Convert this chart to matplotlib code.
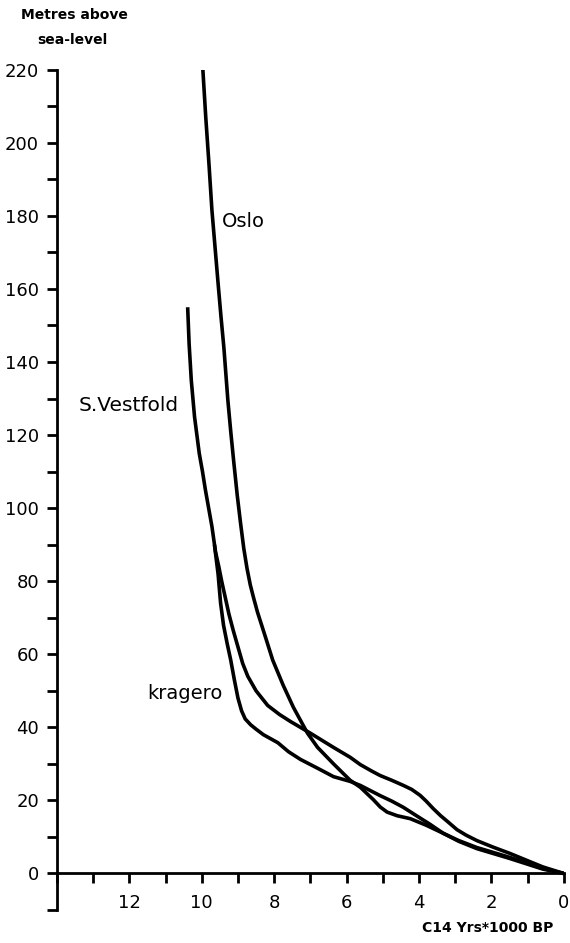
import matplotlib
matplotlib.use("Agg")
import matplotlib.pyplot as plt
from matplotlib.ticker import MultipleLocator

# curves (x = C14 yrs * 1000 BP, y = metres above sea level)
oslo_x = [9.97, 9.89, 9.8, 9.72, 9.63, 9.55, 9.47, 9.39, 9.28, 9.2, 9.12, 9.02,
          8.93, 8.84, 8.75, 8.66, 8.57, 8.46, 8.25, 8.04, 7.75, 7.47, 7.08,
          6.8, 6.36, 5.9, 5.62, 5.26, 5.07, 4.88, 4.6, 4.24, 3.8, 3.33,
          2.9, 2.4, 1.49, 0.58, 0.0]
oslo_y = [220, 207, 194, 181.6, 171, 161.6, 152.5, 144, 129.6, 121, 113, 103.5,
          96, 89, 83.5, 79, 75.5, 71.5, 65, 58.4, 51.5, 45.5, 38.4,
          34.5, 30, 25.5, 23.6, 20.2, 18.2, 16.8, 15.8, 15.0, 13.2, 11,
          8.8, 6.8, 4.1, 1.2, 0]

vestfold_x = [10.39, 10.35, 10.29, 10.2, 10.07, 9.98, 9.9, 9.81, 9.72, 9.62,
              9.53, 9.45, 9.35, 9.25, 9.13, 9.0, 8.87, 8.73, 8.5, 8.18,
              7.85, 7.55, 7.0, 6.36, 5.9, 5.62, 5.3, 5.07, 4.75, 4.43, 4.2,
              3.97, 3.8, 3.61, 3.4, 3.22, 2.95, 2.7, 2.4, 1.95, 1.49, 1.0,
              0.58, 0.0]
vestfold_y = [155, 145, 135, 125, 115, 110, 105, 100, 95, 88,
              84, 80, 75.5, 71, 66.5, 62, 57.5, 54, 50, 46,
              43.5, 41.6, 38.4, 34.5, 31.8, 29.8, 28, 26.8, 25.5, 24.1, 23,
              21.4, 19.8, 17.8, 15.8, 14.3, 12, 10.5, 9.0, 7.2, 5.5, 3.5,
              1.8, 0]

kragero_x = [9.65, 9.55, 9.48, 9.4, 9.3, 9.2, 9.1, 9.0, 8.9, 8.8, 8.65, 8.5,
             8.3, 8.1, 7.9, 7.6, 7.27, 6.8, 6.36, 5.9, 5.62, 5.07, 4.75,
             4.43, 4.1, 3.7, 3.33, 2.9, 2.4, 1.49, 0.58, 0.0]
kragero_y = [90, 82, 74, 68, 63, 58.4, 53, 48, 44.5, 42.3, 40.7, 39.5,
             38, 36.9, 35.8, 33.3, 31.2, 28.8, 26.5, 25.2, 24.1, 21.3, 19.8,
             18.1, 16, 13.5, 11.0, 9, 7.1, 4.4, 1.4, 0]

labels = ["Oslo", "S.Vestfold", "kragero"]

fig = plt.figure(figsize=(5.7, 9.43), dpi=100)
ax = fig.add_axes([0.1, 0.035, 0.889, 0.891])

for xs, ys in [(oslo_x, oslo_y), (vestfold_x, vestfold_y), (kragero_x, kragero_y)]:
    ax.plot(xs, ys, color="black", lw=2.6, solid_joinstyle="round",
            solid_capstyle="butt")

ax.set_xlim(14, 0)
ax.set_ylim(-10, 220)

ax.spines["top"].set_visible(False)
ax.spines["right"].set_visible(False)
ax.spines["bottom"].set_position(("data", 0))
ax.spines["left"].set_linewidth(2)
ax.spines["bottom"].set_linewidth(2)

ax.xaxis.set_minor_locator(MultipleLocator(1))
ax.yaxis.set_minor_locator(MultipleLocator(10))
ax.set_xticks([12, 10, 8, 6, 4, 2, 0])
ax.set_yticks(list(range(0, 221, 20)))
ax.tick_params(axis="both", which="both", direction="out", length=7, width=2,
               labelsize=13)
ax.tick_params(axis="x", pad=8)
ax.tick_params(axis="y", pad=6)

ax.text(9.45, 178.6, labels[0], fontsize=14, va="center", ha="left")
ax.text(13.4, 128, labels[1], fontsize=14.5, va="center", ha="left")
ax.text(11.5, 49.3, labels[2], fontsize=14, va="center", ha="left")

fig.text(0.13, 0.984, "Metres above", fontsize=10, fontweight="bold",
         ha="center", va="center")
fig.text(0.127, 0.958, "sea-level", fontsize=10, fontweight="bold",
         ha="center", va="center")
fig.text(0.855, 0.016, "C14 Yrs*1000 BP", fontsize=10, fontweight="bold",
         ha="center", va="center")

fig.savefig("out.png", dpi=100)
